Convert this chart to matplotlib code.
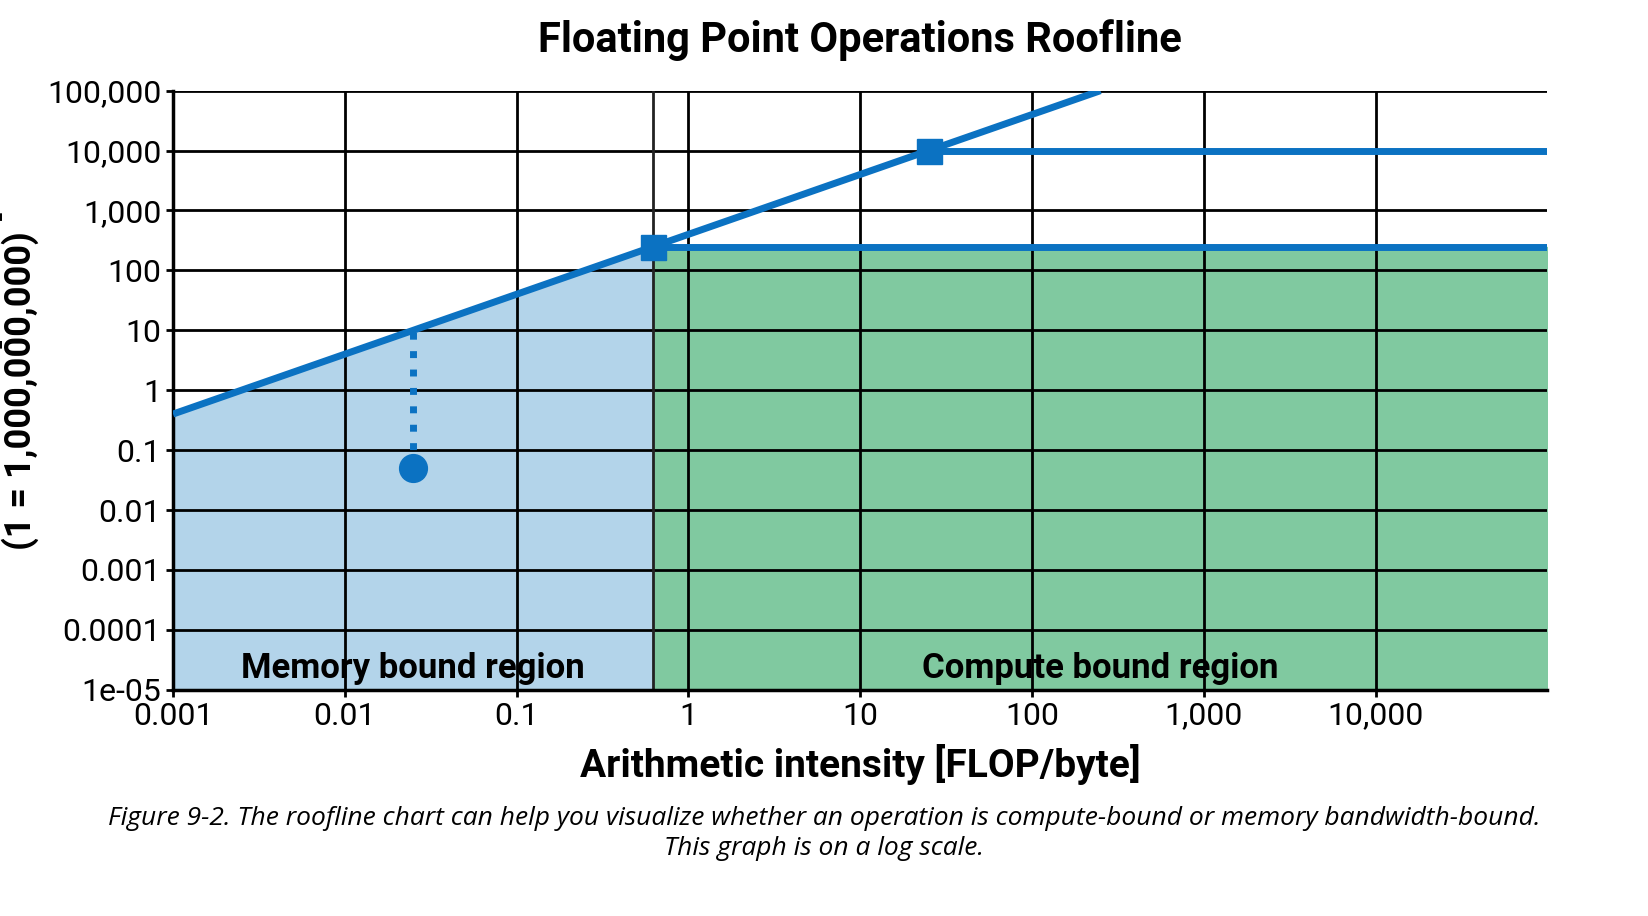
import numpy as np
import matplotlib.pyplot as plt

# roofline data
bandwidth = 400.0          # slope of memory roof
roofs = [250.0, 10000.0]   # compute ceilings
knees = [r / bandwidth for r in roofs]
x_ticks = [0.001, 0.01, 0.1, 1, 10, 100, 1000, 10000]
x_labels = ["0.001", "0.01", "0.1", "1", "10", "100", "1,000", "10,000"]
y_ticks = [1e-5, 1e-4, 1e-3, 1e-2, 1e-1, 1, 10, 100, 1000, 10000, 100000]
y_labels = ["1e-05", "0.0001", "0.001", "0.01", "0.1", "1", "10", "100", "1,000", "10,000", "100,000"]
op_x, op_y = 0.025, 0.05

blue = "#0b72c2"
narrow = ['Liberation Sans Narrow', 'Roboto', 'DejaVu Sans']
plt.rcParams['font.family'] = narrow

fig = plt.figure(figsize=(16.48, 9.16), dpi=100)
ax = fig.add_axes([0.105, 0.247, 0.834, 0.654])
ax.set_xscale("log")
ax.set_yscale("log")
xmin, xmax = 0.001, 1e5
ymin, ymax = 1e-5, 1e5
ax.set_xlim(xmin, xmax)
ax.set_ylim(ymin, ymax)

# regions
xs = np.logspace(-3, np.log10(knees[0]), 50)
ax.fill_between(xs, ymin, bandwidth * xs, color="#b3d4ea", zorder=0)
ax.fill_between([knees[0], xmax], ymin, roofs[0], color="#80c9a0", zorder=0)

# grid
for t in x_ticks:
    ax.axvline(t, color="black", lw=2, zorder=1)
for t in y_ticks[1:]:
    ax.axhline(t, color="black", lw=2, zorder=1)
ax.axvline(knees[0], color="#222222", lw=2, zorder=1)

# roof lines
xl = np.array([xmin, 1e5 / bandwidth])
ax.plot(xl, bandwidth * xl, color=blue, lw=5, zorder=3, solid_capstyle="butt")
for k, r in zip(knees, roofs):
    ax.plot([k, xmax], [r, r], color=blue, lw=5, zorder=3)
    ax.plot(k, r, "s", color=blue, ms=18, zorder=4)

ax.plot([op_x, op_x], [op_y, bandwidth * op_x], ":", color=blue, lw=5, zorder=3)
ax.plot(op_x, op_y, "o", color=blue, ms=20, zorder=4)

ax.text(0.025, 2.3e-5, "Memory bound region", ha="center", va="center", fontsize=25, fontweight="bold", zorder=5)
ax.text(250, 2.3e-5, "Compute bound region", ha="center", va="center", fontsize=25, fontweight="bold", zorder=5)

ax.set_xticks(x_ticks)
ax.set_xticklabels(x_labels)
ax.set_yticks(y_ticks)
ax.set_yticklabels(y_labels)
ax.minorticks_off()
ax.tick_params(labelsize=23, width=2, length=5)
for s in ["top", "right"]:
    ax.spines[s].set_visible(False)
for s in ["left", "bottom"]:
    ax.spines[s].set_linewidth(2.5)

ax.set_xlabel("Arithmetic intensity [FLOP/byte]", fontsize=28, fontweight="bold", labelpad=10)
ax.set_ylabel("Performance [FLOP/s]\n(1 = 1,000,000,000)", fontsize=26, fontweight="bold", labelpad=6, linespacing=0.85)
ax.set_title("Floating Point Operations Roofline", fontsize=30, fontweight="bold", pad=28)

fig.text(0.5, 0.09, "Figure 9-2. The roofline chart can help you visualize whether an operation is compute-bound or memory bandwidth-bound.\nThis graph is on a log scale.",
         ha="center", va="center", fontsize=19, style="italic", linespacing=1.3,
         family=['Open Sans', 'DejaVu Sans'])

fig.savefig("out.png", dpi=100)
